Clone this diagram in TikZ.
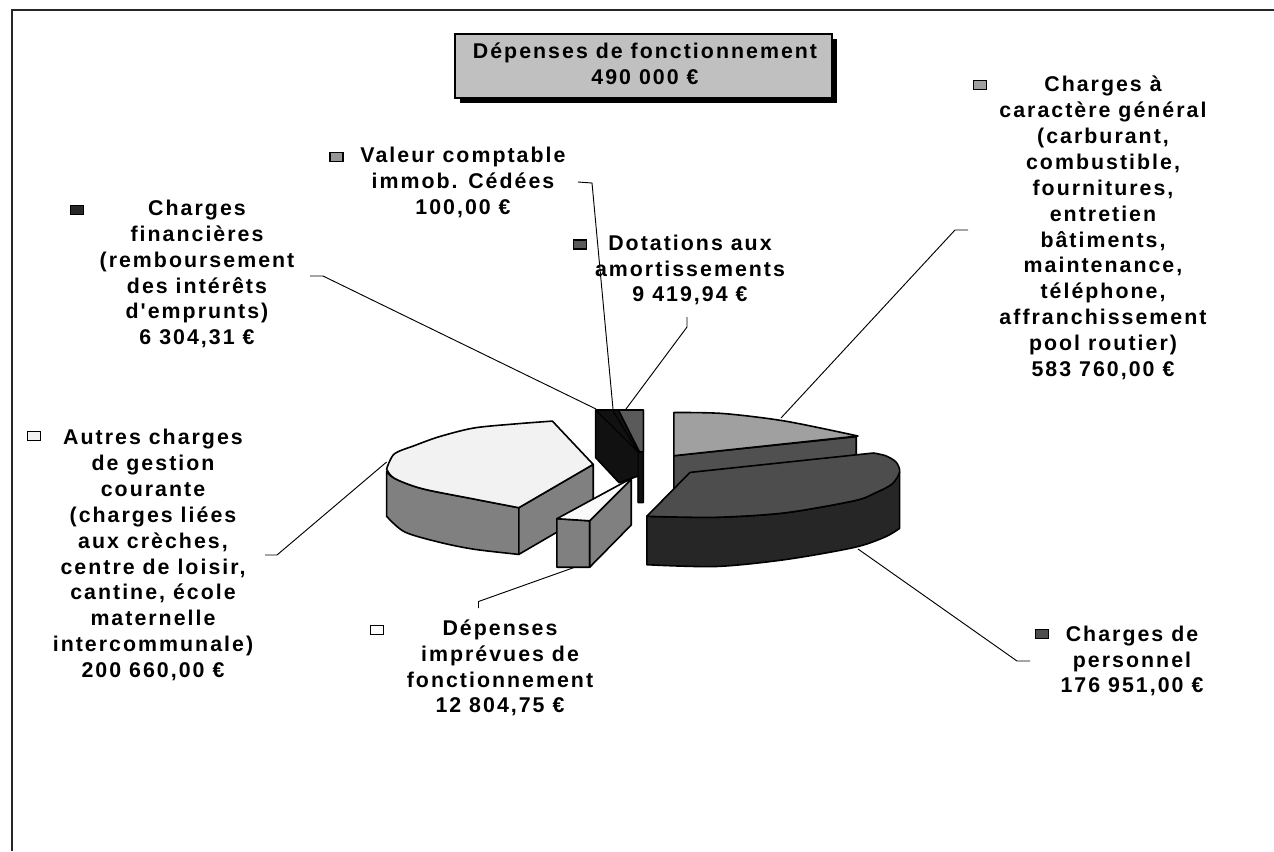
\documentclass[tikz,border=0pt]{standalone}
\usepackage{fontspec}
\newfontfamily\labfont{Liberation Sans}[LetterSpace=9.5]
\usetikzlibrary{shadows}
\newcommand\labf{\labfont\bfseries\fontsize{16}{19.4}\selectfont}
\definecolor{ctitle}{RGB}{192,192,192}
\definecolor{cAtop}{RGB}{242,242,242}
\definecolor{cside}{RGB}{128,128,128}
\definecolor{cDtop}{RGB}{250,250,250}
\definecolor{cblk}{RGB}{17,17,17}
\definecolor{cdot}{RGB}{90,90,90}
\definecolor{cGtop}{RGB}{160,160,160}
\definecolor{cGside}{RGB}{80,80,80}
\definecolor{cPtop}{RGB}{77,77,77}
\definecolor{cPside}{RGB}{38,38,38}
\definecolor{kfin}{RGB}{40,40,40}
\definecolor{kval}{RGB}{150,150,150}
\begin{document}
\begin{tikzpicture}[x=0.75pt,y=-0.75pt,
  lbl/.style={font=\labf, align=center, inner sep=0pt},
  key/.style={draw=black, line width=1pt, minimum width=9.75pt, minimum height=6.75pt, inner sep=0pt},
  lead/.style={draw=black, line width=0.7pt},
  pedge/.style={draw=black, line width=1.2pt, line join=round}]
\useasboundingbox (0,0) rectangle (1274,851);
\fill[white] (0,0) rectangle (1274,851);
\draw[line width=1.4pt, black!85] (12,851) -- (12,10) -- (1274,10);

% title
\node[draw=black, line width=1pt, fill=ctitle, minimum width=282.75pt, minimum height=48pt,
  general shadow={fill=black, shadow xshift=3.75pt, shadow yshift=-3.75pt}] (titlebox) at (643.5,66) {};
\node[lbl] (title) at (645,63.5) {Dépenses de fonctionnement\\490 000 €};

% ---------- pie ----------
% Autres charges (left slice)
\filldraw[pedge, fill=cside] (386.6,471.3) -- (386.6,516.3)
  -- plot[smooth] coordinates {(386.6,516.3) (404.6,531.9) (439.2,542.2) (473.8,549.2) (518.8,554.4)}
  -- (518.8,507.7)
  -- plot[smooth] coordinates {(518.8,507.7) (473.8,499) (421.9,488.6) (394.2,478.2) (386.6,471.3)} -- cycle;
\filldraw[pedge, fill=cside] (518.8,507.7) -- (593.2,464.4) -- (593.2,511) -- (518.8,554.4) -- cycle;
\filldraw[pedge, fill=cAtop] plot[smooth] coordinates {(386.6,469) (394.2,454) (415,445.4) (439.2,436.7) (473.8,428) (515.3,423.9) (552.4,421.1)}
  -- (593.2,464.4) -- (518.8,507.7)
  -- plot[smooth] coordinates {(518.8,507.7) (473.8,499) (421.9,488.6) (394.2,478.2) (386.6,469)} -- cycle;

% small slices cluster
\filldraw[pedge, fill=cblk] (595.6,410) -- (643.4,410) -- (643.4,502.5) -- (638.2,502.5) -- (638.2,476)
  -- (619.1,482.7) -- (595.6,457.5) -- cycle;
\filldraw[pedge, fill=cdot] (618.4,410) -- (643.4,410) -- (643.4,452) -- (639.5,452) -- cycle;
\draw[pedge, line width=0.8pt] (595.6,410) -- (638.2,452);
\draw[pedge, line width=0.8pt] (612.5,410) -- (638.2,452) -- (638.2,502.5);

% Depenses imprevues (small slice)
\filldraw[pedge, fill=cside] (556.9,518.7) -- (589.7,520.8) -- (589.7,567.2) -- (556.9,567.2) -- cycle;
\filldraw[pedge, fill=cside] (589.7,520.8) -- (631.2,479.3) -- (631.2,525) -- (589.7,567.2) -- cycle;
\filldraw[pedge, fill=cDtop] (556.9,518.7) -- (629.5,479.3) -- (631.2,479.3) -- (589.7,520.8) -- cycle;

% Charges a caractere general
\filldraw[pedge, fill=cGside] (673.8,455.7) -- (856.2,436.7) -- (856.2,478) -- (673.8,497) -- cycle;
\filldraw[pedge, fill=cGtop] plot[smooth] coordinates {(673.8,412.5) (722.9,413.5) (785.2,421.1) (857.9,436)}
  -- (673.8,455.7) -- cycle;

% Charges de personnel
\filldraw[pedge, fill=cPside] (646.8,516.3) -- (646.8,564.7)
  -- plot[smooth] coordinates {(646.8,564.7) (716,566.5) (785.2,559.6) (854.4,547.4) (885,537) (899.6,528.4)}
  -- (899.6,472)
  -- plot[smooth] coordinates {(899.6,472) (892,484) (875,493) (854.4,500.7) (785.2,512.8) (716,517.3) (646.8,516.3)} -- cycle;
\filldraw[pedge, fill=cPtop] (646.8,516.3) -- (690,472.4) -- (873.4,453)
  -- plot[smooth] coordinates {(873.4,453) (885.5,455.7) (896,462) (899.6,472) (892,484) (875,493) (854.4,500.7) (785.2,512.8) (716,517.3) (646.8,516.3)} -- cycle;

% ---------- labels ----------
\node[lbl] (cg) at (1103,228) {Charges à\\caractère général\\(carburant,\\combustible,\\fournitures,\\entretien\\bâtiments,\\maintenance,\\téléphone,\\affranchissement\\pool routier)\\583 760,00 €};
\node[key, fill=cGtop] (kcg) at (979.7,85.3) {};

\node[lbl] (cf) at (197,274) {Charges\\financières\\(remboursement\\des intérêts\\d'emprunts)\\6 304,31 €};
\node[key, fill=kfin] (kcf) at (76.7,210) {};

\node[lbl] (vc) at (463,182.3) {Valeur comptable\\immob. Cédées\\100,00 €};
\node[key, fill=kval] (kvc) at (336.5,156.7) {};

\node[lbl] (dot) at (690,270) {Dotations aux\\amortissements\\9 419,94 €};
\node[key, fill=cdot] (kdot) at (580,244.5) {};

\node[lbl] (ac) at (153,555) {Autres charges\\de gestion\\courante\\(charges liées\\aux crèches,\\centre de loisir,\\cantine, école\\maternelle\\intercommunale)\\200 660,00 €};
\node[key, fill=cAtop] (kac) at (33.7,436) {};

\node[lbl] (dep) at (500,668) {Dépenses\\imprévues de\\fonctionnement\\12 804,75 €};
\node[key, fill=white] (kdep) at (377,629.7) {};

\node[lbl] (cp) at (1132,661) {Charges de\\personnel\\176 951,00 €};
\node[key, fill=cPtop] (kcp) at (1041.7,634) {};

% ---------- leader lines ----------
\coordinate (cgA) at (968,230); \coordinate (cgB) at (955,230); \coordinate (cgP) at (781,418);
\draw[lead] (cgA) -- (cgB) -- (cgP);
\coordinate (cpA) at (1030,661); \coordinate (cpB) at (1017,661); \coordinate (cpP) at (858,549);
\draw[lead] (cpA) -- (cpB) -- (cpP);
\coordinate (depA) at (478.5,608); \coordinate (depB) at (478.5,601.5); \coordinate (depP) at (574,567.5);
\draw[lead] (depA) -- (depB) -- (depP);
\coordinate (acA) at (265,555); \coordinate (acB) at (277,555); \coordinate (acP) at (386.6,462);
\draw[lead] (acA) -- (acB) -- (acP);
\coordinate (cfA) at (310,276); \coordinate (cfB) at (323,276); \coordinate (cfP) at (596,409);
\draw[lead] (cfA) -- (cfB) -- (cfP);
\coordinate (vcA) at (578,182); \coordinate (vcB) at (592,183); \coordinate (vcP) at (613,409);
\draw[lead] (vcA) -- (vcB) -- (vcP);
\coordinate (dotA) at (687,317); \coordinate (dotB) at (687,327); \coordinate (dotP) at (626,409);
\draw[lead] (dotA) -- (dotB) -- (dotP);
\end{tikzpicture}
\end{document}
